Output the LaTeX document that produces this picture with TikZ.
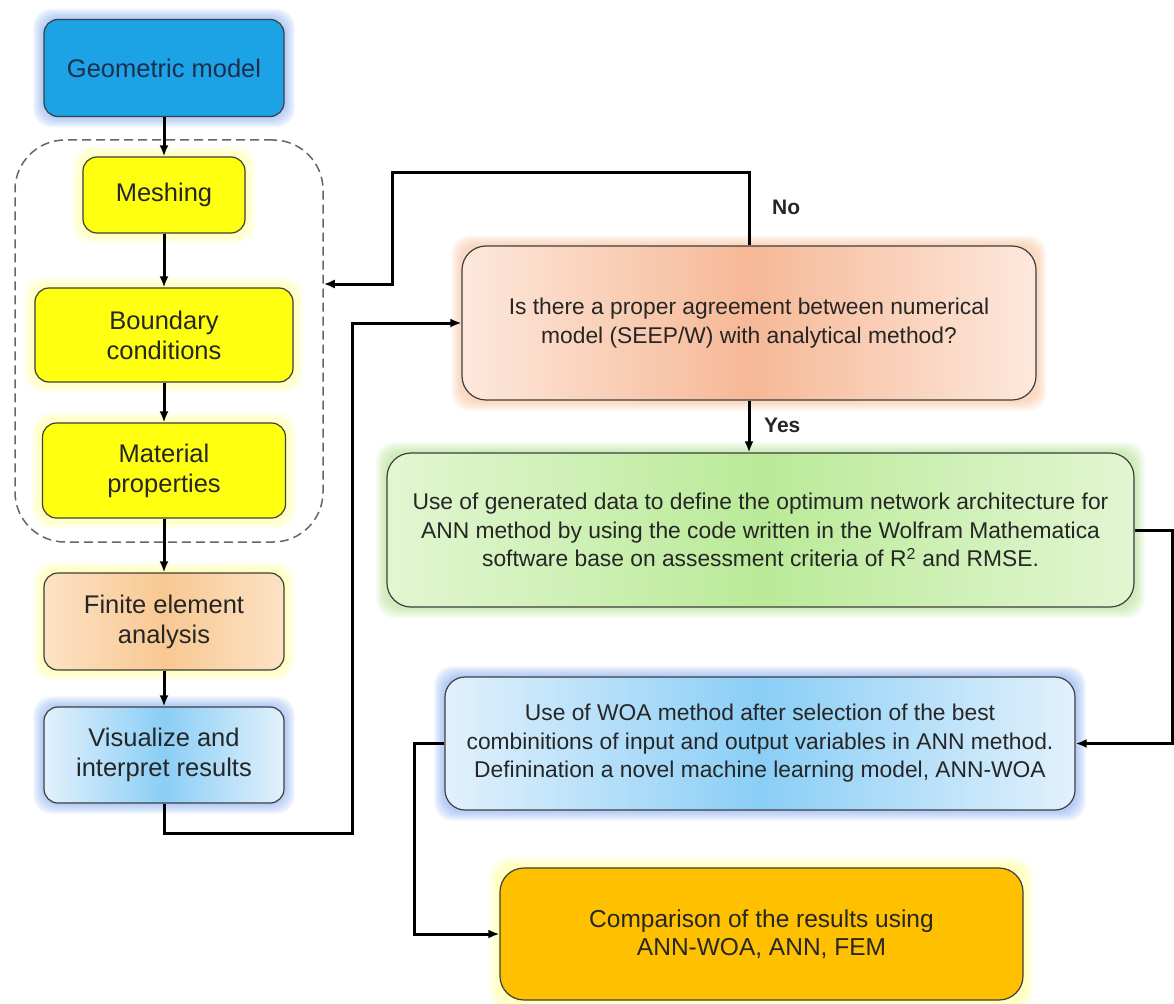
\documentclass[tikz,border=0pt]{standalone}
\usepackage{fontspec}
\setsansfont{Liberation Sans}
\usepackage{tikz}
\usetikzlibrary{arrows.meta,calc,backgrounds}
\definecolor{ink}{RGB}{38,38,38}
\definecolor{edge}{RGB}{62,62,62}
\definecolor{geoblue}{RGB}{28,163,230}
\definecolor{navy}{RGB}{28,45,78}
\definecolor{lemon}{RGB}{255,255,16}
\definecolor{peachL}{RGB}{252,226,196}
\definecolor{peachM}{RGB}{248,200,146}
\definecolor{skyL}{RGB}{226,241,252}
\definecolor{skyM}{RGB}{138,206,246}
\definecolor{salmonL}{RGB}{253,232,220}
\definecolor{salmonM}{RGB}{246,184,150}
\definecolor{leafL}{RGB}{226,246,210}
\definecolor{leafM}{RGB}{186,234,152}
\definecolor{amber}{RGB}{255,192,0}
\definecolor{gBlue}{RGB}{95,145,235}
\definecolor{gYellow}{RGB}{255,255,110}
\definecolor{gOrange}{RGB}{245,170,120}
\definecolor{gGreen}{RGB}{150,215,110}

\tikzset{
  box/.style={draw=edge,line width=1.2pt,rounded corners=14pt,align=center,inner sep=0pt,text=ink},
  bigbox/.style={box,rounded corners=24pt},
  colfont/.style={font=\sffamily\fontsize{25.5}{30}\selectfont},
  stepfont/.style={font=\sffamily\fontsize{22.8}{28.5}\selectfont},
  flow/.style={line width=3pt,-{Latex[length=11pt,width=9pt]}},
  lbl/.style={font=\sffamily\bfseries\fontsize{21}{24}\selectfont,text=ink,inner sep=0pt},
}
% soft halo behind a node
\newcommand{\glow}[2]{%
  \begin{scope}[on background layer]
    \foreach \g in {2,4,...,10}
      \fill[#2,opacity=0.11,rounded corners=18pt] ($(#1.south west)+(-\g,\g)$) rectangle ($(#1.north east)+(\g,-\g)$);
  \end{scope}}

\begin{document}
\begin{tikzpicture}[x=1pt,y=-1pt]
 \useasboundingbox (0,0) rectangle (1174,1003);
 % left column
 \node[box,colfont,fill=geoblue,text=navy,minimum width=240pt,minimum height=97pt] (geo) at (164,68) {Geometric model};
 \node[draw=edge!80,dash pattern=on 9pt off 5pt,line width=1.5pt,rounded corners=50pt,minimum width=308pt,minimum height=402pt] (grp) at (169,341) {};
 \node[box,colfont,fill=lemon,minimum width=162pt,minimum height=76pt] (mesh) at (164,195) {Meshing};
 \node[box,colfont,fill=lemon,minimum width=258pt,minimum height=94pt] (bound) at (164,335) {Boundary\\conditions};
 \node[box,colfont,fill=lemon,minimum width=243pt,minimum height=95pt] (mat) at (164,470.5) {Material\\properties};
 \node[box,colfont,left color=peachL,right color=peachL,middle color=peachM,minimum width=240pt,minimum height=97pt] (fea) at (164,621.5) {Finite element\\analysis};
 \node[box,colfont,left color=skyL,right color=skyL,middle color=skyM,minimum width=240pt,minimum height=96pt] (vis) at (164,755) {Visualize and\\interpret results};
 % right column
 \node[bigbox,stepfont,left color=salmonL,right color=salmonL,middle color=salmonM,minimum width=574pt,minimum height=154pt] (q) at (749,323) {Is there a proper agreement between numerical\\model (SEEP/W) with analytical method?};
 \node[bigbox,stepfont,left color=leafL,right color=leafL,middle color=leafM,minimum width=747pt,minimum height=154pt] (ann) at (760.5,530) {Use of generated data to define the optimum network architecture for\\ANN method by using the code written in the Wolfram Mathematica\\software base on assessment criteria of R\textsuperscript{2} and RMSE.};
 \node[box,stepfont,rounded corners=20pt,left color=skyL,right color=skyL,middle color=skyM,minimum width=630pt,minimum height=133pt] (woa) at (760,743.5) {Use of WOA method after selection of the best\\combinitions of input and output variables in ANN method.\\Definination a novel machine learning model, ANN-WOA};
 \node[bigbox,font=\sffamily\fontsize{24.5}{28}\selectfont,fill=amber,minimum width=523pt,minimum height=132pt] (cmp) at (761.5,934) {Comparison of the results using\\ANN-WOA, ANN, FEM};
 % halos
 \glow{geo}{gBlue}
 \glow{mesh}{gYellow}
 \glow{bound}{gYellow}
 \glow{mat}{gYellow}
 \glow{fea}{gYellow}
 \glow{vis}{gBlue}
 \glow{q}{gOrange}
 \glow{ann}{gGreen}
 \glow{woa}{gBlue}
 \glow{cmp}{gYellow}
 % connectors
 \draw[flow] (geo) -- (mesh);
 \draw[flow] (mesh) -- (bound);
 \draw[flow] (bound) -- (mat);
 \draw[flow] (mat) -- (fea);
 \draw[flow] (fea) -- (vis);
 \coordinate (visOut) at (352,833);
 \draw[flow] (vis.south) |- (visOut) |- (q.west);
 \coordinate (noTop) at (392,173);
 \coordinate (noY) at (0,284);
 \draw[flow] (q.north) |- (noTop) |- (grp.east |- noY);
 \node[lbl,anchor=west] (no) at (772,207) {No};
 \draw[flow] (q.south) -- (q.south |- ann.north);
 \node[lbl,anchor=west] (yes) at (764,425) {Yes};
 \coordinate (annOut) at (1172,530);
 \draw[flow] (ann.east) -- (annOut) |- (woa.east);
 \coordinate (woaOut) at (414,743.5);
 \draw[flow] (woa.west) -- (woaOut) |- (cmp.west);
\end{tikzpicture}
\end{document}
